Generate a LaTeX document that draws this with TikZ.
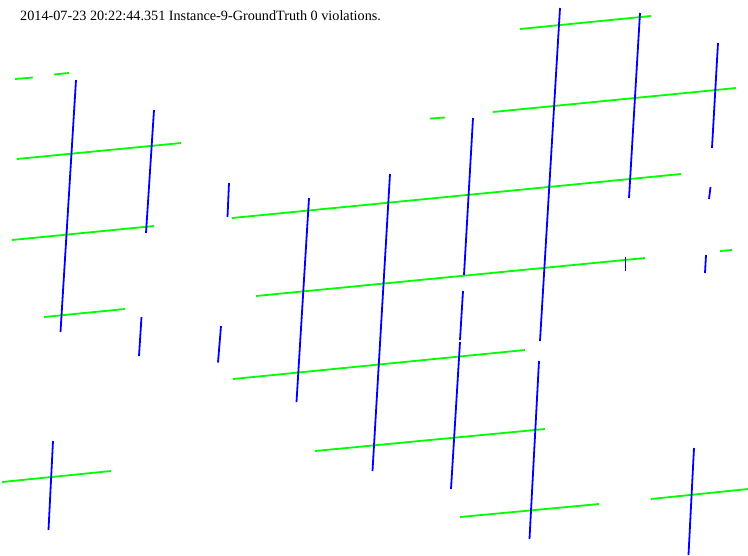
\documentclass[tikz,border=0pt]{standalone}
\usepackage{fontspec}
\setmainfont{Liberation Serif}
\definecolor{gline}{RGB}{0,255,0}
\definecolor{bline}{RGB}{0,0,255}
\tikzset{
  gseg/.style={draw=gline, line width=1.8pt, line cap=butt},
  bseg/.style={draw=bline, line width=1.8pt, line cap=butt},
  title/.style={font=\fontsize{14.2}{17}\selectfont, inner sep=0pt, anchor=base west}
}
\begin{document}
\begin{tikzpicture}[x=1pt,y=-1pt]
\useasboundingbox[fill=white] (0,0) rectangle (748,555);
\node[title] (caption) at (20,20) {2014-07-23 20:22:44.351 Instance-9-GroundTruth 0 violations.};
% green segments
\foreach \a/\b/\c/\d in {15/79/33/77.5, 54/74.5/69/73, 17/159/181/143, 12/240/154/226, 44/317/125/309,
  232/218/681/174, 430/118.5/445/117.5, 493/112/736/88, 520/29/651/16, 256/296/645/258,
  720/251/732/250, 233/379/525/350, 315/451/545/429, 2/482/111/471, 460/517/599/504, 651/499/748/489}
  \draw[gseg] (\a,\b) -- (\c,\d);
% blue segments
\foreach \a/\b/\c/\d in {76/80/60.5/332, 154/110/146/233, 229/183/227.5/217, 141.5/317/139/356, 221/326/218/362.5,
  309/198/296.5/402, 390/174/372.5/471, 473/118/464/275, 463/291/460/340, 460/342/451/489,
  560/8/540/341, 640/13/629/198, 718/43/712/148, 710.5/187/709/199, 625.5/257/625.5/271,
  706/255/705/273, 539/361/529.5/539, 694/448/688.5/555, 53/441/48.5/530}
  \draw[bseg] (\a,\b) -- (\c,\d);
\end{tikzpicture}
\end{document}
